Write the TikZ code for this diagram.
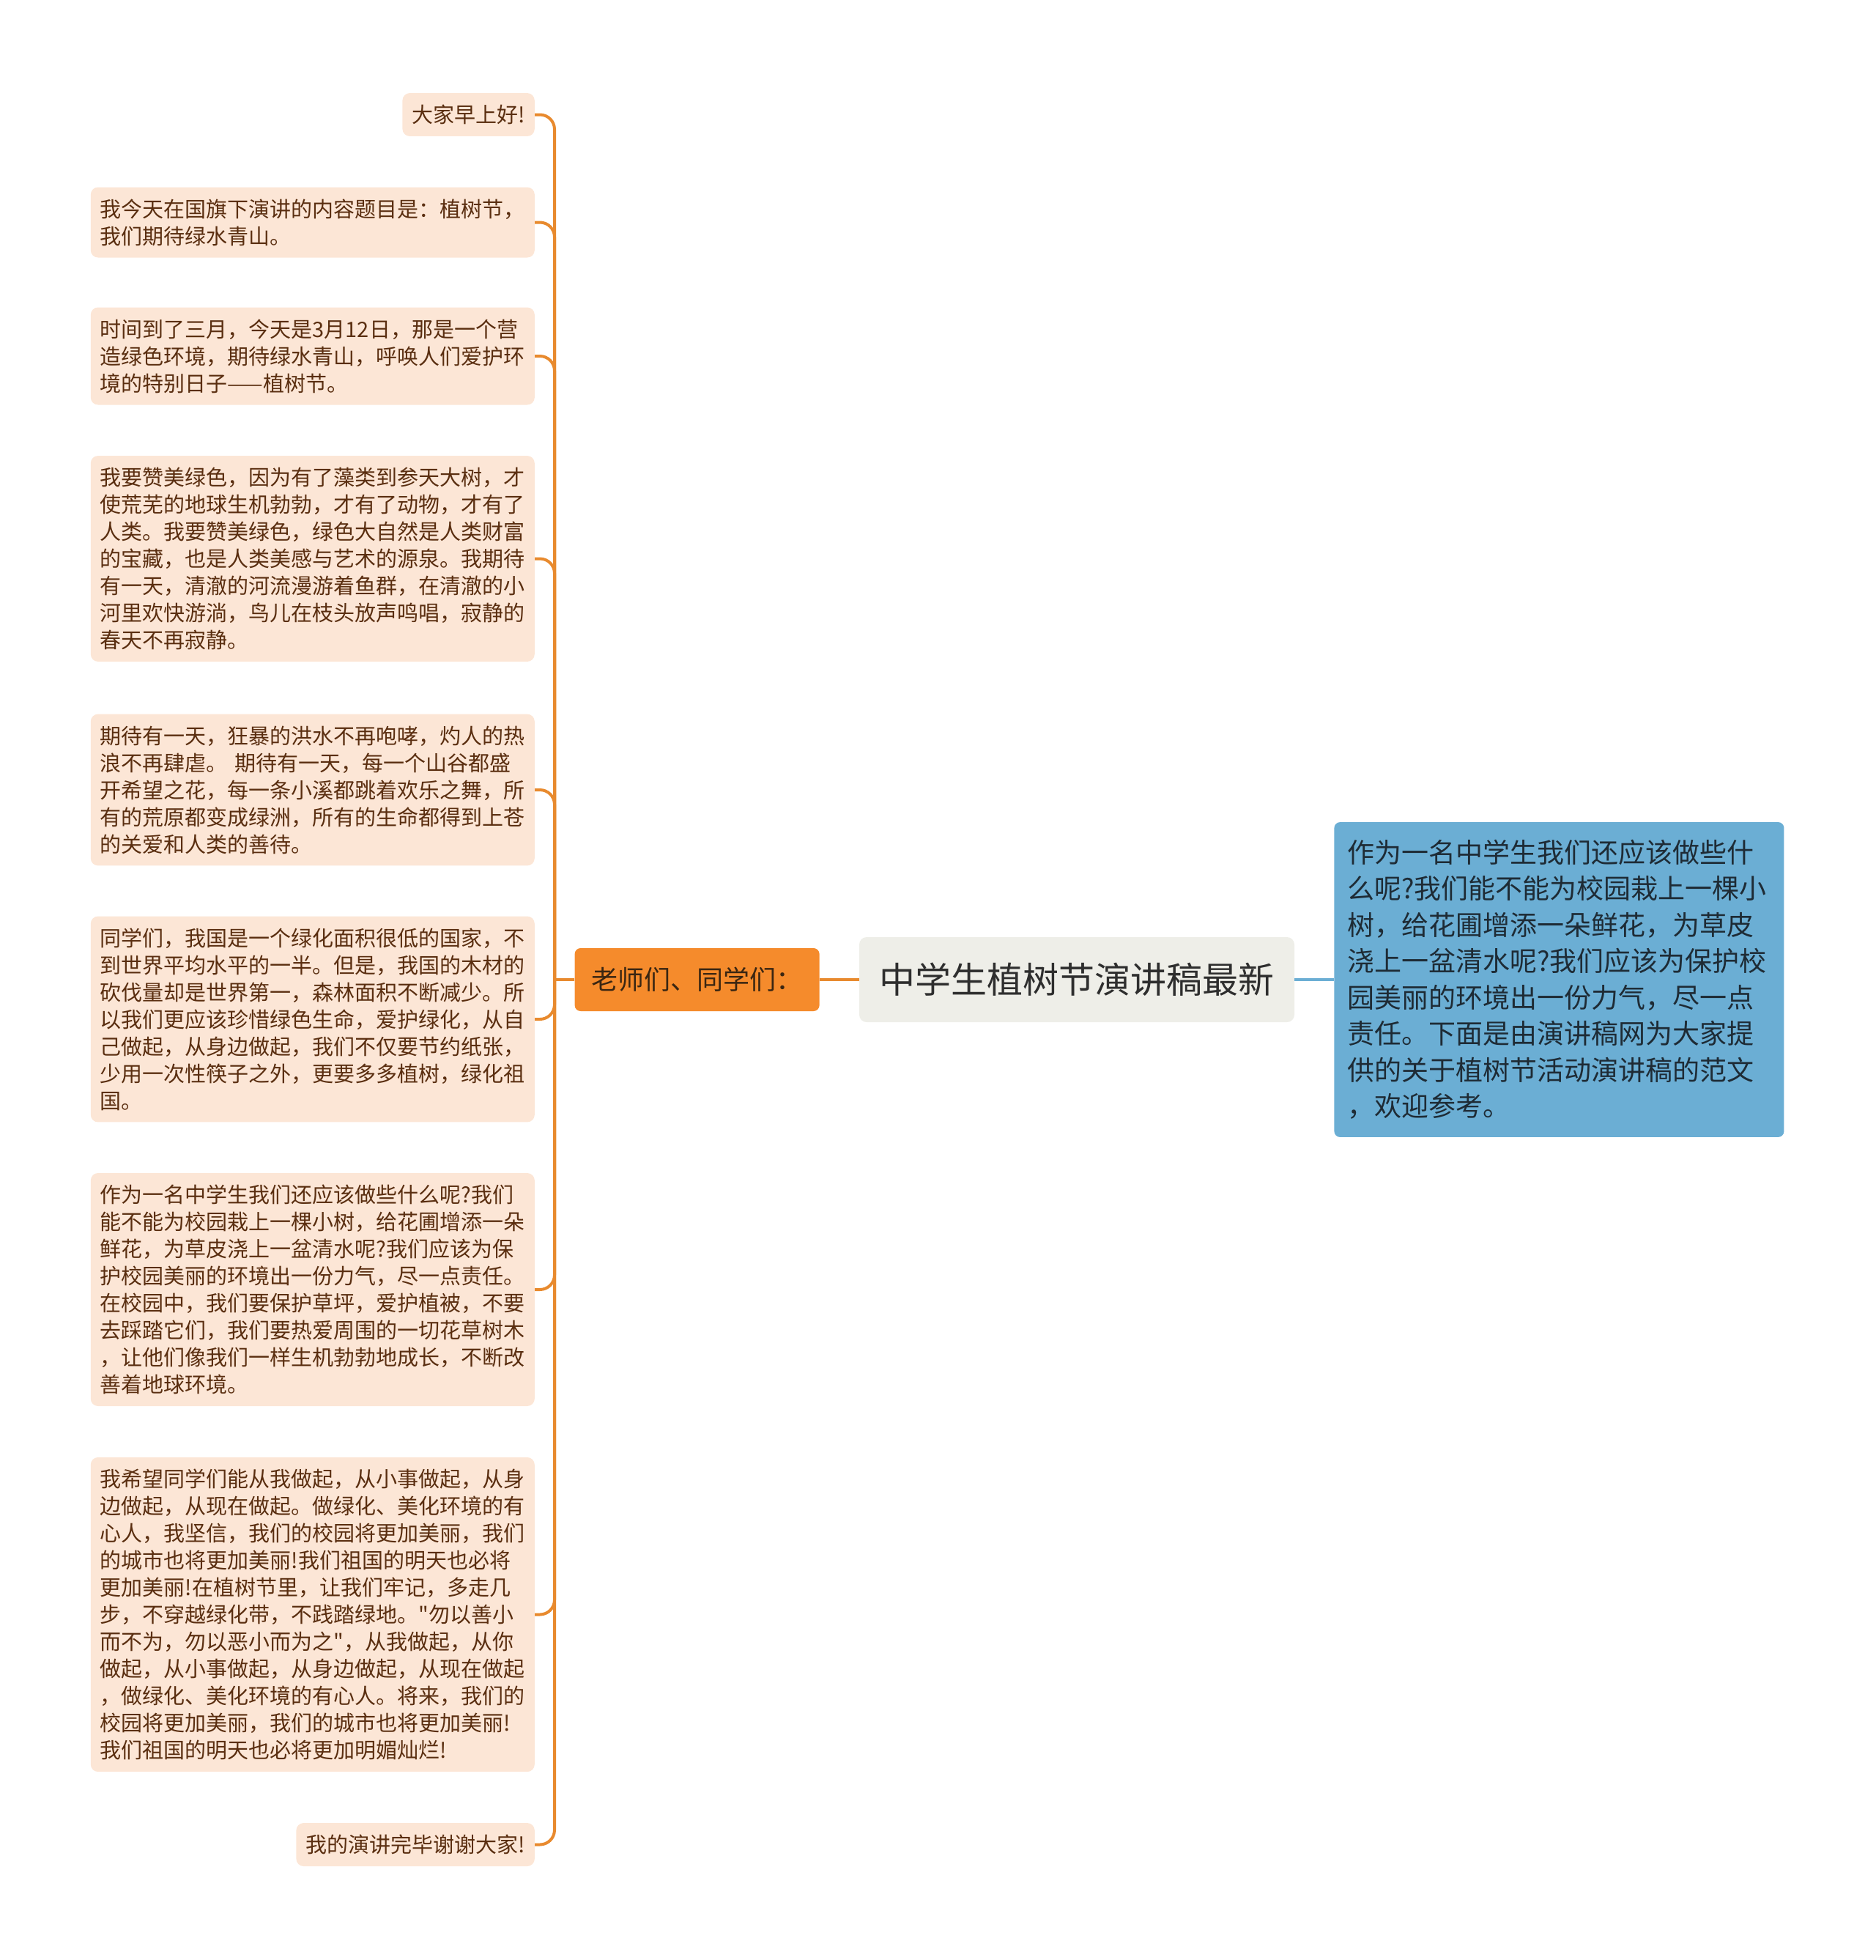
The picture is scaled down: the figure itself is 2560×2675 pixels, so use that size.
\documentclass[tikz,border=0pt]{standalone}
\usepackage{fontspec}
\setmainfont{Noto Sans CJK SC}[Ligatures=TeXOff]
\usetikzlibrary{positioning}
\definecolor{leaffill}{HTML}{FCE6D6}
\definecolor{leaftext}{HTML}{5A2E10}
\definecolor{linkorange}{HTML}{E88A2E}
\definecolor{branchfill}{HTML}{F58B2C}
\definecolor{branchtext}{HTML}{3A2612}
\definecolor{rootfill}{HTML}{EEEEE8}
\definecolor{roottext}{HTML}{2E2E2E}
\definecolor{bluefill}{HTML}{6BAED4}
\definecolor{bluetext}{HTML}{1E2B35}

\begin{document}
\begin{tikzpicture}[x=1pt,y=-1pt,
  leaf/.style={fill=leaffill,text=leaftext,rounded corners=10pt,inner xsep=13pt,inner ysep=16pt,
    font=\fontsize{29}{37}\selectfont,align=left,anchor=east},
  longleaf/.style={leaf,text width=580pt},
  link/.style={draw=linkorange,line width=4pt,rounded corners=20pt},
  elbow/.style={to path={|- (\tikztotarget)}}]
  \useasboundingbox (0,0) rectangle (2560,2675);

  \node[fill=rootfill,text=roottext,rounded corners=10pt,minimum width=594pt,minimum height=116pt,
    font=\fontsize{49}{56}\selectfont] (t0) at (1470,1337) {中学生植树节演讲稿最新};
  \node[fill=branchfill,text=branchtext,rounded corners=8pt,minimum width=334pt,minimum height=86pt,
    font=\fontsize{36}{42}\selectfont] (b1) [left=54pt of t0] {老师们、同学们：};
  \node[fill=bluefill,text=bluetext,rounded corners=8pt,text width=578pt,inner xsep=18pt,inner ysep=24pt,
    font=\fontsize{37}{49.5}\selectfont,align=left] (r1) [right=54pt of t0]
    {作为一名中学生我们还应该做些什\\么呢?我们能不能为校园栽上一棵小\\树，给花圃增添一朵鲜花，为草皮\\浇上一盆清水呢?我们应该为保护校\\园美丽的环境出一份力气，尽一点\\责任。下面是由演讲稿网为大家提\\供的关于植树节活动演讲稿的范文\\，欢迎参考。};

  \node[leaf] (l1) at (730,156.5) {大家早上好!};
  \node[longleaf] (l2) at (730,303.5) {我今天在国旗下演讲的内容题目是：植树节，\\我们期待绿水青山。};
  \node[longleaf] (l3) at (730,486) {时间到了三月，今天是3月12日，那是一个营\\造绿色环境，期待绿水青山，呼唤人们爱护环\\境的特别日子——植树节。};
  \node[longleaf] (l4) at (730,762.5) {我要赞美绿色，因为有了藻类到参天大树，才\\使荒芜的地球生机勃勃，才有了动物，才有了\\人类。我要赞美绿色，绿色大自然是人类财富\\的宝藏，也是人类美感与艺术的源泉。我期待\\有一天，清澈的河流漫游着鱼群，在清澈的小\\河里欢快游淌，鸟儿在枝头放声鸣唱，寂静的\\春天不再寂静。};
  \node[longleaf] (l5) at (730,1078) {期待有一天，狂暴的洪水不再咆哮，灼人的热\\浪不再肆虐。 期待有一天，每一个山谷都盛\\开希望之花，每一条小溪都跳着欢乐之舞，所\\有的荒原都变成绿洲，所有的生命都得到上苍\\的关爱和人类的善待。};
  \node[longleaf] (l6) at (730,1391) {同学们，我国是一个绿化面积很低的国家，不\\到世界平均水平的一半。但是，我国的木材的\\砍伐量却是世界第一，森林面积不断减少。所\\以我们更应该珍惜绿色生命，爱护绿化，从自\\己做起，从身边做起，我们不仅要节约纸张，\\少用一次性筷子之外，更要多多植树，绿化祖\\国。};
  \node[longleaf] (l7) at (730,1760) {作为一名中学生我们还应该做些什么呢?我们\\能不能为校园栽上一棵小树，给花圃增添一朵\\鲜花，为草皮浇上一盆清水呢?我们应该为保\\护校园美丽的环境出一份力气，尽一点责任。\\在校园中，我们要保护草坪，爱护植被，不要\\去踩踏它们，我们要热爱周围的一切花草树木\\，让他们像我们一样生机勃勃地成长，不断改\\善着地球环境。};
  \node[longleaf] (l8) at (730,2203.5) {我希望同学们能从我做起，从小事做起，从身\\边做起，从现在做起。做绿化、美化环境的有\\心人，我坚信，我们的校园将更加美丽，我们\\的城市也将更加美丽!我们祖国的明天也必将\\更加美丽!在植树节里，让我们牢记，多走几\\步，不穿越绿化带，不践踏绿地。"勿以善小\\而不为，勿以恶小而为之"，从我做起，从你\\做起，从小事做起，从身边做起，从现在做起\\，做绿化、美化环境的有心人。将来，我们的\\校园将更加美丽，我们的城市也将更加美丽!\\我们祖国的明天也必将更加明媚灿烂!};
  \node[leaf] (l9) at (730,2517.5) {我的演讲完毕谢谢大家!};

  \coordinate (trunk) at (757,1337);
  \draw[link] (t0) -- (b1);
  \draw[draw=bluefill,line width=4pt] (t0) -- (r1);
  \draw[link] (b1) -- (trunk);
  \path[link]
    (trunk) edge[elbow] (l1)
            edge[elbow] (l2)
            edge[elbow] (l3)
            edge[elbow] (l4)
            edge[elbow] (l5)
            edge[elbow] (l6)
            edge[elbow] (l7)
            edge[elbow] (l8)
            edge[elbow] (l9);
\end{tikzpicture}
\end{document}
